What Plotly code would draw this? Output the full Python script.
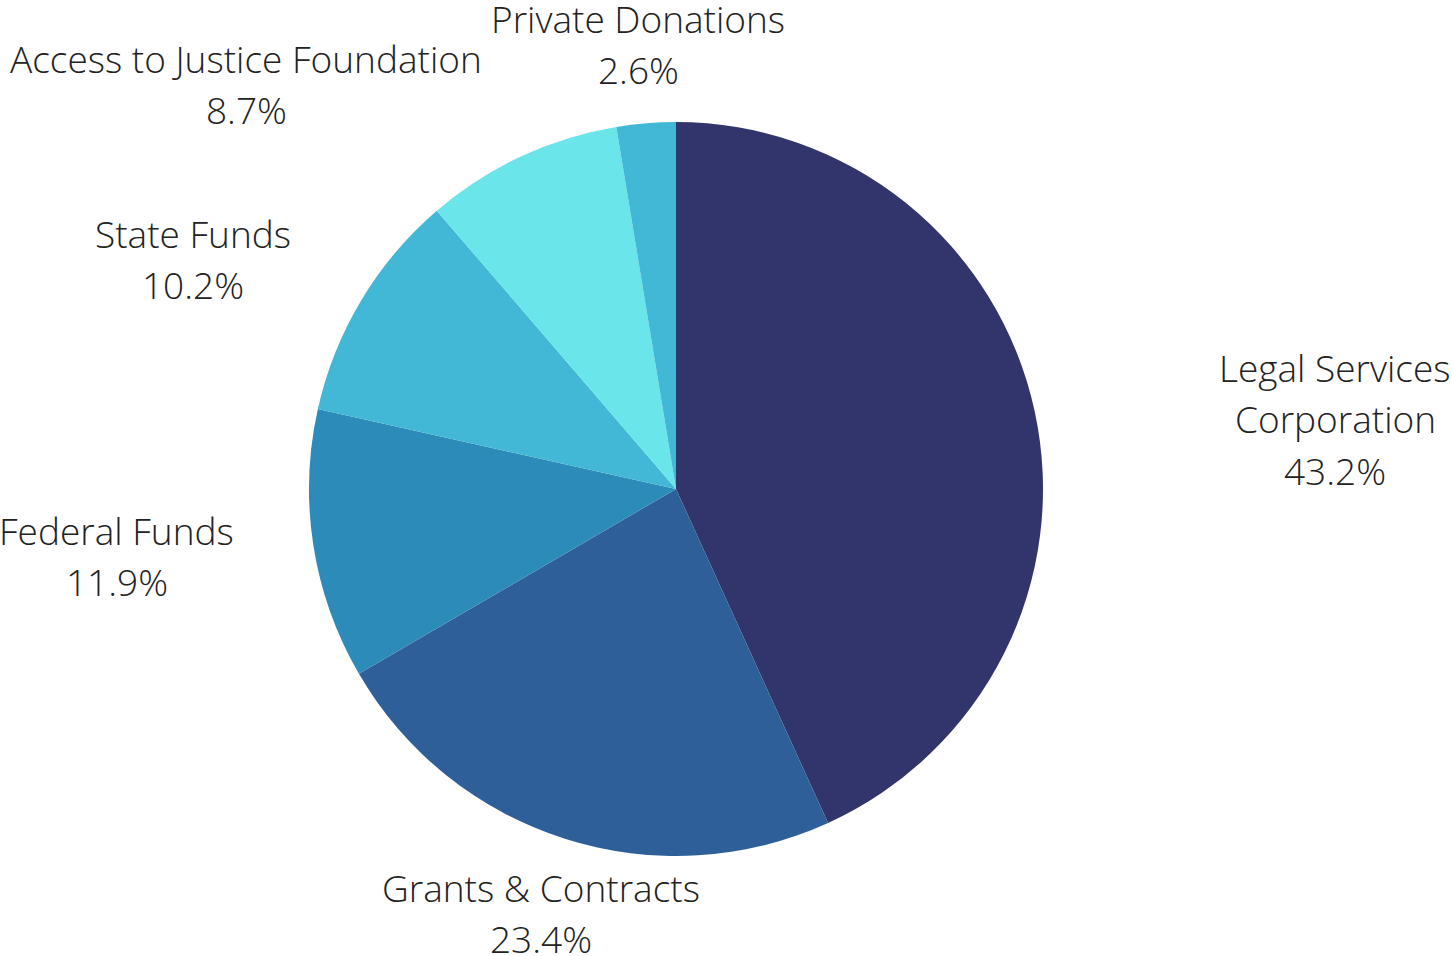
import plotly.graph_objects as go

categories = ["Legal Services<br>Corporation", "Grants & Contracts", "Federal Funds",
              "State Funds", "Access to Justice Foundation", "Private Donations"]
values = [43.2, 23.4, 11.9, 10.2, 8.7, 2.6]
colors = ["#31356B", "#2E5F98", "#2D8BBA", "#42B7D6", "#6AE5E9", "#42B8D6"]

W, H = 1453, 956
# label layout: (x center px, y of first line px)
label_anchor = [(1335, 367), (541, 887), (117, 530), (193, 233), (246, 58), (638, 18)]
line_gap = 51.5

fig = go.Figure(go.Pie(
    labels=[c.replace("<br>", " ") for c in categories],
    values=values,
    sort=False,
    direction="clockwise",
    rotation=0,
    marker=dict(colors=colors, line=dict(width=0)),
    textinfo="none",
    showlegend=False,
    domain=dict(x=[309 / W, 1043 / W], y=[1 - 856 / H, 1 - 122 / H]),
))

font = dict(family="Open Sans", size=37, color="#222222", weight=300)
for cat, v, (ax, ay) in zip(categories, values, label_anchor):
    lines = cat.split("<br>") + [f"{v:.1f}%"]
    for i, ln in enumerate(lines):
        fig.add_annotation(
            x=ax / W, y=1 - (ay + i * line_gap) / H, xref="paper", yref="paper",
            text=ln, showarrow=False, xanchor="center", yanchor="middle", font=font,
        )

fig.update_layout(
    width=W, height=H,
    margin=dict(l=0, r=0, t=0, b=0),
    paper_bgcolor="white", plot_bgcolor="white",
)
fig.write_html("out.html", config={"displayModeBar": False},
               post_script="document.body.style.margin='0';document.body.style.overflow='hidden';")
